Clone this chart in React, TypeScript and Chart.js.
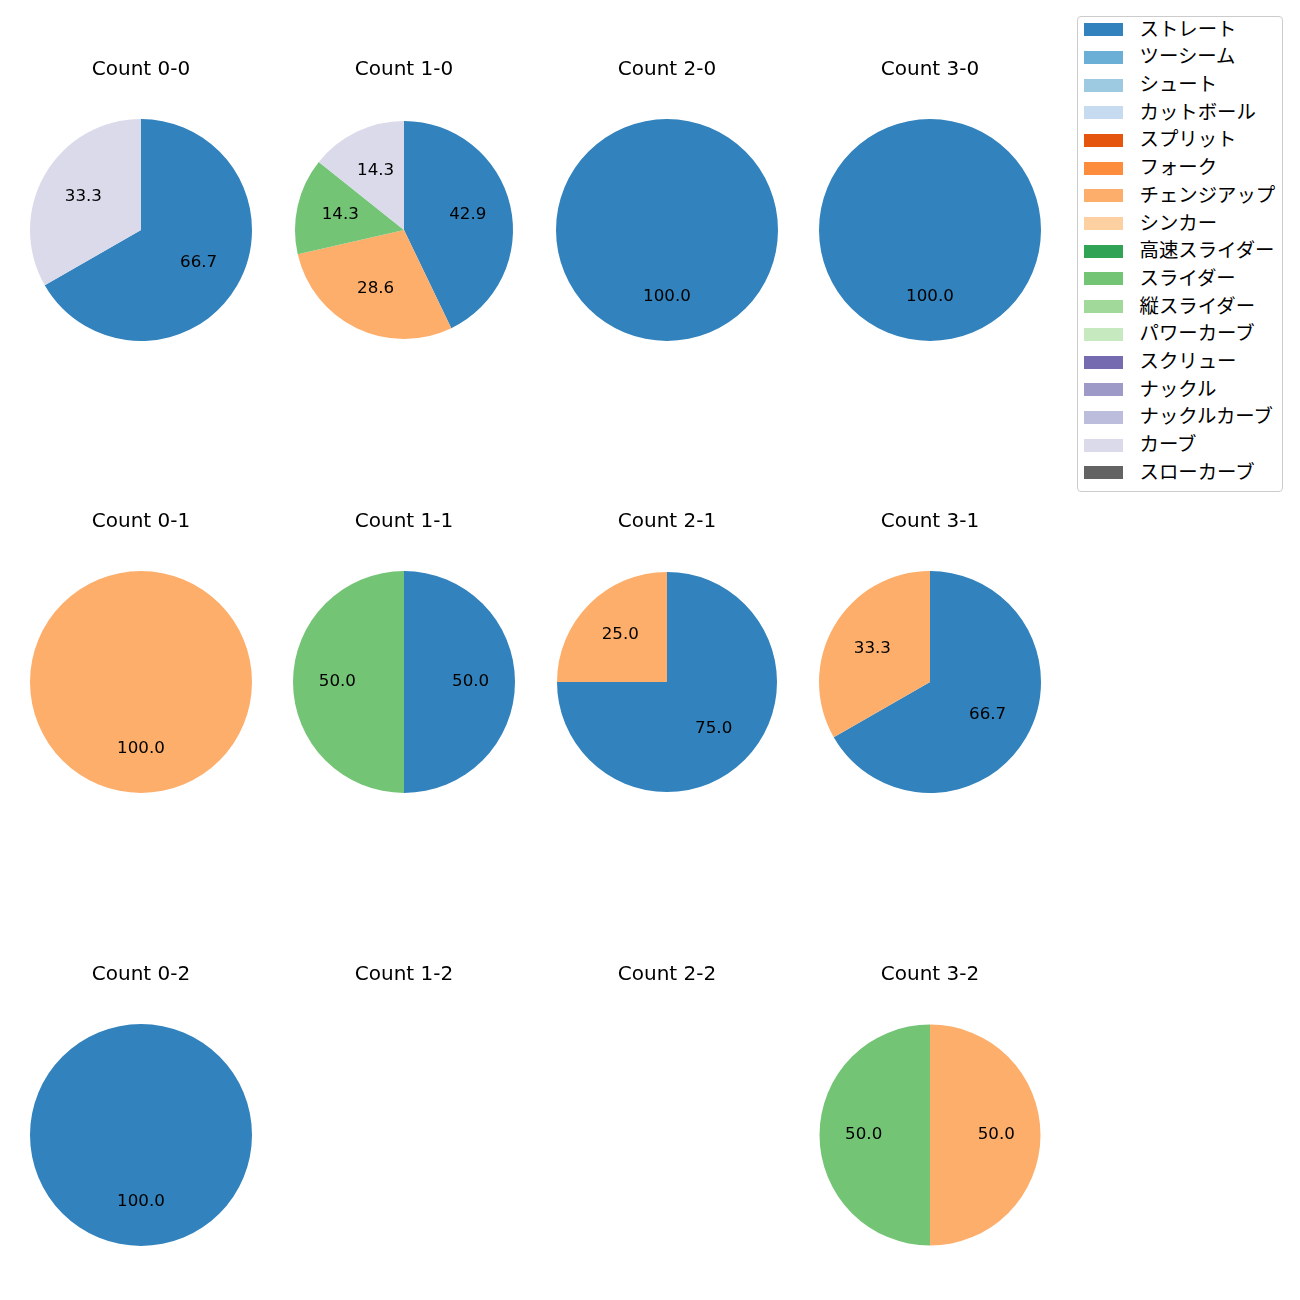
import React, { useEffect, useRef } from 'react';
import { Chart, registerables } from 'chart.js';

Chart.register(...registerables);

const FONT = "'DejaVu Sans', 'Noto Sans CJK JP', sans-serif";

const PITCH_TYPES = [
  'ストレート', 'ツーシーム', 'シュート', 'カットボール', 'スプリット', 'フォーク',
  'チェンジアップ', 'シンカー', '高速スライダー', 'スライダー', '縦スライダー',
  'パワーカーブ', 'スクリュー', 'ナックル', 'ナックルカーブ', 'カーブ', 'スローカーブ',
];
const PITCH_COLORS = [
  '#3182bd', '#6baed6', '#9ecae1', '#c6dbef', '#e6550d', '#fd8d3c',
  '#fdae6b', '#fdd0a2', '#31a354', '#74c476', '#a1d99b',
  '#c7e9c0', '#756bb1', '#9e9ac8', '#bcbddc', '#dadaeb', '#636363',
];

const COUNT_TITLES = [
  'Count 0-0', 'Count 1-0', 'Count 2-0', 'Count 3-0',
  'Count 0-1', 'Count 1-1', 'Count 2-1', 'Count 3-1',
  'Count 0-2', 'Count 1-2', 'Count 2-2', 'Count 3-2',
];

const count00Pitches = ['ストレート', 'カーブ'];
const count00Values = [66.7, 33.3];
const count10Pitches = ['ストレート', 'チェンジアップ', 'スライダー', 'カーブ'];
const count10Values = [42.9, 28.6, 14.3, 14.3];
const count20Pitches = ['ストレート'];
const count20Values = [100.0];
const count30Pitches = ['ストレート'];
const count30Values = [100.0];
const count01Pitches = ['チェンジアップ'];
const count01Values = [100.0];
const count11Pitches = ['ストレート', 'スライダー'];
const count11Values = [50.0, 50.0];
const count21Pitches = ['ストレート', 'チェンジアップ'];
const count21Values = [75.0, 25.0];
const count31Pitches = ['ストレート', 'チェンジアップ'];
const count31Values = [66.7, 33.3];
const count02Pitches = ['ストレート'];
const count02Values = [100.0];
const count12Pitches: string[] = [];
const count12Values: number[] = [];
const count22Pitches: string[] = [];
const count22Values: number[] = [];
const count32Pitches = ['チェンジアップ', 'スライダー'];
const count32Values = [50.0, 50.0];

const PIE_PITCHES = [
  count00Pitches, count10Pitches, count20Pitches, count30Pitches,
  count01Pitches, count11Pitches, count21Pitches, count31Pitches,
  count02Pitches, count12Pitches, count22Pitches, count32Pitches,
];
const PIE_VALUES = [
  count00Values, count10Values, count20Values, count30Values,
  count01Values, count11Values, count21Values, count31Values,
  count02Values, count12Values, count22Values, count32Values,
];

// layout (pixels)
const COL_X = [141.2, 404.2, 667.2, 930.2];
const ROW_Y = [230, 682.3, 1135];
const PIE_RADII = [111, 109, 111, 111, 111, 111, 110, 111, 111, 111, 111, 110.5];
const CANVAS_W = 262;
const CANVAS_H = 292;
const TOP_OFFSET = 181;

const pctLabelPlugin = {
  id: 'pctLabels',
  afterDatasetsDraw(chart: any) {
    const ds = chart.data.datasets[0];
    if (!ds) return;
    const vals: number[] = ds.data as number[];
    const total = vals.reduce((a, b) => a + b, 0);
    if (!total) return;
    const meta = chart.getDatasetMeta(0);
    const ctx = chart.ctx;
    ctx.save();
    ctx.font = `16.7px ${FONT}`;
    ctx.fillStyle = '#000';
    ctx.textAlign = 'center';
    ctx.textBaseline = 'alphabetic';
    meta.data.forEach((arc: any, i: number) => {
      const p = arc.getProps(['x', 'y', 'startAngle', 'endAngle', 'outerRadius'], true);
      const mid = (p.startAngle + p.endAngle) / 2;
      const rr = p.outerRadius * 0.6;
      const x = p.x + Math.cos(mid) * rr;
      const y = p.y + Math.sin(mid) * rr;
      const txt = ((vals[i] / total) * 100).toFixed(1);
      ctx.fillText(txt, x, y + 4.0);
    });
    ctx.restore();
  },
};

function PieChart({ index }: { index: number }) {
  const ref = useRef<HTMLCanvasElement | null>(null);
  const col = index % 4;
  const row = Math.floor(index / 4);
  const cx = COL_X[col];
  const cy = ROW_Y[row];
  useEffect(() => {
    if (!ref.current) return;
    const pitches = PIE_PITCHES[index];
    const values = PIE_VALUES[index];
    const chart = new Chart(ref.current, {
      type: 'pie',
      data: {
        labels: pitches,
        datasets: [
          {
            data: values,
            backgroundColor: pitches.map((p) => PITCH_COLORS[PITCH_TYPES.indexOf(p)]),
            borderWidth: 0,
            hoverOffset: 0,
          },
        ],
      },
      options: {
        responsive: false,
        animation: false,
        events: [],
        radius: PIE_RADII[index],
        layout: { padding: 0 },
        plugins: {
          legend: { display: false },
          tooltip: { enabled: false },
          title: {
            display: true,
            text: COUNT_TITLES[index],
            color: '#000',
            font: { size: 20, weight: 'normal', family: FONT, lineHeight: 1.2 },
            padding: { top: 9, bottom: 37 },
          },
        },
      } as any,
      plugins: [pctLabelPlugin],
    });
    return () => chart.destroy();
  }, [index]);
  return (
    <canvas
      ref={ref}
      width={CANVAS_W}
      height={CANVAS_H}
      style={{
        position: 'absolute',
        left: cx - CANVAS_W / 2,
        top: cy - TOP_OFFSET,
        width: CANVAS_W,
        height: CANVAS_H,
      }}
    />
  );
}

function Legend() {
  const left = 1076.5;
  const top = 15.5;
  return (
    <div
      style={{
        position: 'absolute',
        left,
        top,
        width: 206,
        height: 476,
        boxSizing: 'border-box',
        border: '1px solid #cccccc',
        borderRadius: 4,
        background: '#fff',
        fontFamily: FONT,
      }}
    >
      {PITCH_TYPES.map((name, i) => {
        const centerY = 29.6 + i * 27.7 - top - 1;
        return (
          <div
            key={name}
            style={{
              position: 'absolute',
              left: 0,
              top: centerY - 14,
              height: 28,
              width: 204,
            }}
          >
            <div
              style={{
                position: 'absolute',
                left: 1083.5 - left - 1,
                top: 14 - 6.5,
                width: 39.5,
                height: 13,
                background: PITCH_COLORS[i],
              }}
            />
            <span
              style={{
                position: 'absolute',
                left: 1139.5 - left - 1,
                top: 0,
                lineHeight: '28px',
                fontSize: 19.4,
                color: '#000',
                whiteSpace: 'nowrap',
              }}
            >
              {name}
            </span>
          </div>
        );
      })}
    </div>
  );
}

export default function App() {
  return (
    <div
      style={{
        position: 'absolute',
        left: 0,
        top: 0,
        width: 1300,
        height: 1300,
        background: '#fff',
      }}
    >
      {COUNT_TITLES.map((_, i) => (
        <PieChart key={i} index={i} />
      ))}
      <Legend />
    </div>
  );
}
